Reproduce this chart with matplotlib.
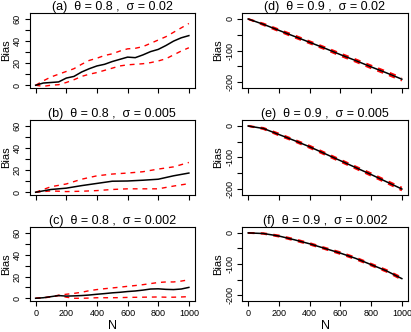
import matplotlib
matplotlib.use("Agg")
import matplotlib.pyplot as plt

plt.rcParams['font.family'] = ['Liberation Sans', 'DejaVu Sans']

# sample sizes
N_fine = list(range(0, 1001, 50))
N_coarse = list(range(0, 1001, 100))

# theta = 0.8 panels (left column)
a_mid = [0, 2, 2.5, 3, 6.5, 8, 12, 15, 17.5, 19, 21.5, 23.5, 25.5, 25, 27.5, 30.5, 32.5, 36, 40, 43, 45]
a_hi = [0, 4, 7.5, 10, 12.5, 15, 19, 22.5, 24.5, 27, 28.5, 31, 33, 33.5, 35, 38, 41, 44, 48, 52, 56]
a_lo = [0, -1, 0, 0.5, 2.5, 5, 8, 10, 11.5, 13.5, 15.5, 17.5, 18.5, 19, 19.5, 20.5, 22, 24, 27.5, 31, 34]

b_mid = [0, 2.5, 3.7, 6, 8, 10, 10.2, 10.9, 11.8, 14.9, 17.4]
b_hi = [0, 5, 7.5, 11.8, 14.9, 16.5, 17.4, 18.6, 21, 23, 27]
b_lo = [0, 1.2, 0.6, 0.9, 1.5, 2.5, 3.1, 3.1, 3.1, 5.6, 7.8]

c_mid = [0, 0.5, 1.5, 2.5, 2, 2.2, 2.5, 3, 3.7, 4.3, 5, 5.5, 6.2, 6.7, 7.5, 8.5, 8.7, 8.2, 8, 8.5, 10]
c_hi = [0, 0.5, 1.5, 2.8, 3.7, 4.5, 5.5, 7, 8, 8.8, 9.5, 10.2, 11, 11.7, 12.5, 13.5, 14.5, 15, 15, 15.8, 17]
c_lo = [0, 0.3, 1.2, 2.5, 1, 0, 0, 0.2, 0.5, 0.5, 0.5, 0.6, 0.8, 0.9, 1, 1.1, 1.2, 1, 1, 1.2, 1.5]

# theta = 0.9 panels (right column)
d_mid = [0, -17, -36, -55, -74, -93, -113, -132, -152, -171, -191]
d_hi = [0, -14.5, -33, -51.5, -70.5, -89.5, -109, -128, -147.5, -166.5, -186.5]
d_lo = [0, -19.5, -39, -58.5, -77.5, -96.5, -117, -136, -156.5, -175.5, -195.5]

e_mid = [0, -8, -27, -46, -66, -88, -110, -132, -154, -177, -200]
e_hi = [0, -6, -24, -43, -62.5, -84.5, -106.5, -128.5, -150, -173, -195.5]
e_lo = [0, -10, -30, -49, -69.5, -91.5, -113.5, -135.5, -158, -181, -204.5]

f_mid = [0, -2, -10, -22, -35, -50, -65, -82, -102, -122, -147]
f_hi = [0, -1, -8, -19.5, -32.5, -47.5, -62, -79, -99, -119, -143.5]
f_lo = [0, -3, -12, -24.5, -37.5, -52.5, -68, -85, -105, -125, -150.5]

titles = ["(a)  \u03b8 = 0.8 ,  \u03c3 = 0.02", "(b)  \u03b8 = 0.8 ,  \u03c3 = 0.005",
          "(c)  \u03b8 = 0.8 ,  \u03c3 = 0.002", "(d)  \u03b8 = 0.9 ,  \u03c3 = 0.02",
          "(e)  \u03b8 = 0.9 ,  \u03c3 = 0.005", "(f)  \u03b8 = 0.9 ,  \u03c3 = 0.002"]

panels = [
    (N_fine, a_mid, a_hi, a_lo),
    (N_coarse, b_mid, b_hi, b_lo),
    (N_fine, c_mid, c_hi, c_lo),
    (N_coarse, d_mid, d_hi, d_lo),
    (N_coarse, e_mid, e_hi, e_lo),
    (N_coarse, f_mid, f_hi, f_lo),
]

W, H = 411, 332
fig = plt.figure(figsize=(W / 100, H / 100), dpi=100)

col_x = [(29.5, 195), (242, 408)]
row_y = [(13, 88), (120, 195), (227, 301)]

for i, (n, mid, hi, lo) in enumerate(panels):
    col, row = divmod(i, 3)
    x0, x1 = col_x[col]
    y0, y1 = row_y[row]
    ax = fig.add_axes([x0 / W, 1 - y1 / H, (x1 - x0) / W, (y1 - y0) / H])

    red_lw = 1.0 if col == 0 else 1.3
    ax.plot(n, hi, color='red', lw=red_lw, dashes=(3.5, 3.5))
    ax.plot(n, lo, color='red', lw=red_lw, dashes=(3.5, 3.5))
    ax.plot(n, mid, color='black', lw=1.1)

    ax.set_xlim(-40, 1040)
    ax.set_xticks(range(0, 1001, 200))
    if col == 0:
        ax.set_ylim(-2.5, 65.5)
        ax.set_yticks(range(0, 61, 10))
        ax.set_yticklabels(['0', '', '20', '', '40', '', '60'])
    else:
        ax.set_ylim(-219, 19)
        ax.set_yticks(range(-200, 1, 50))
        ax.set_yticklabels(['-200', '', '-100', '', '0'])

    ax.tick_params(axis='both', length=3.5, width=0.8, labelsize=6.5, pad=2)
    ax.tick_params(axis='y', labelrotation=90)
    for lab in ax.get_yticklabels():
        lab.set_va('center')
    if row < 2:
        ax.set_xticklabels([])
    else:
        ax.set_xlabel('N', fontsize=9, labelpad=2)
    for sp in ax.spines.values():
        sp.set_linewidth(0.8)

    ax.set_ylabel('Bias', fontsize=8, labelpad=1.5)
    ax.set_title(titles[i], fontsize=9, pad=2.5)

fig.savefig('out.png', dpi=100)
